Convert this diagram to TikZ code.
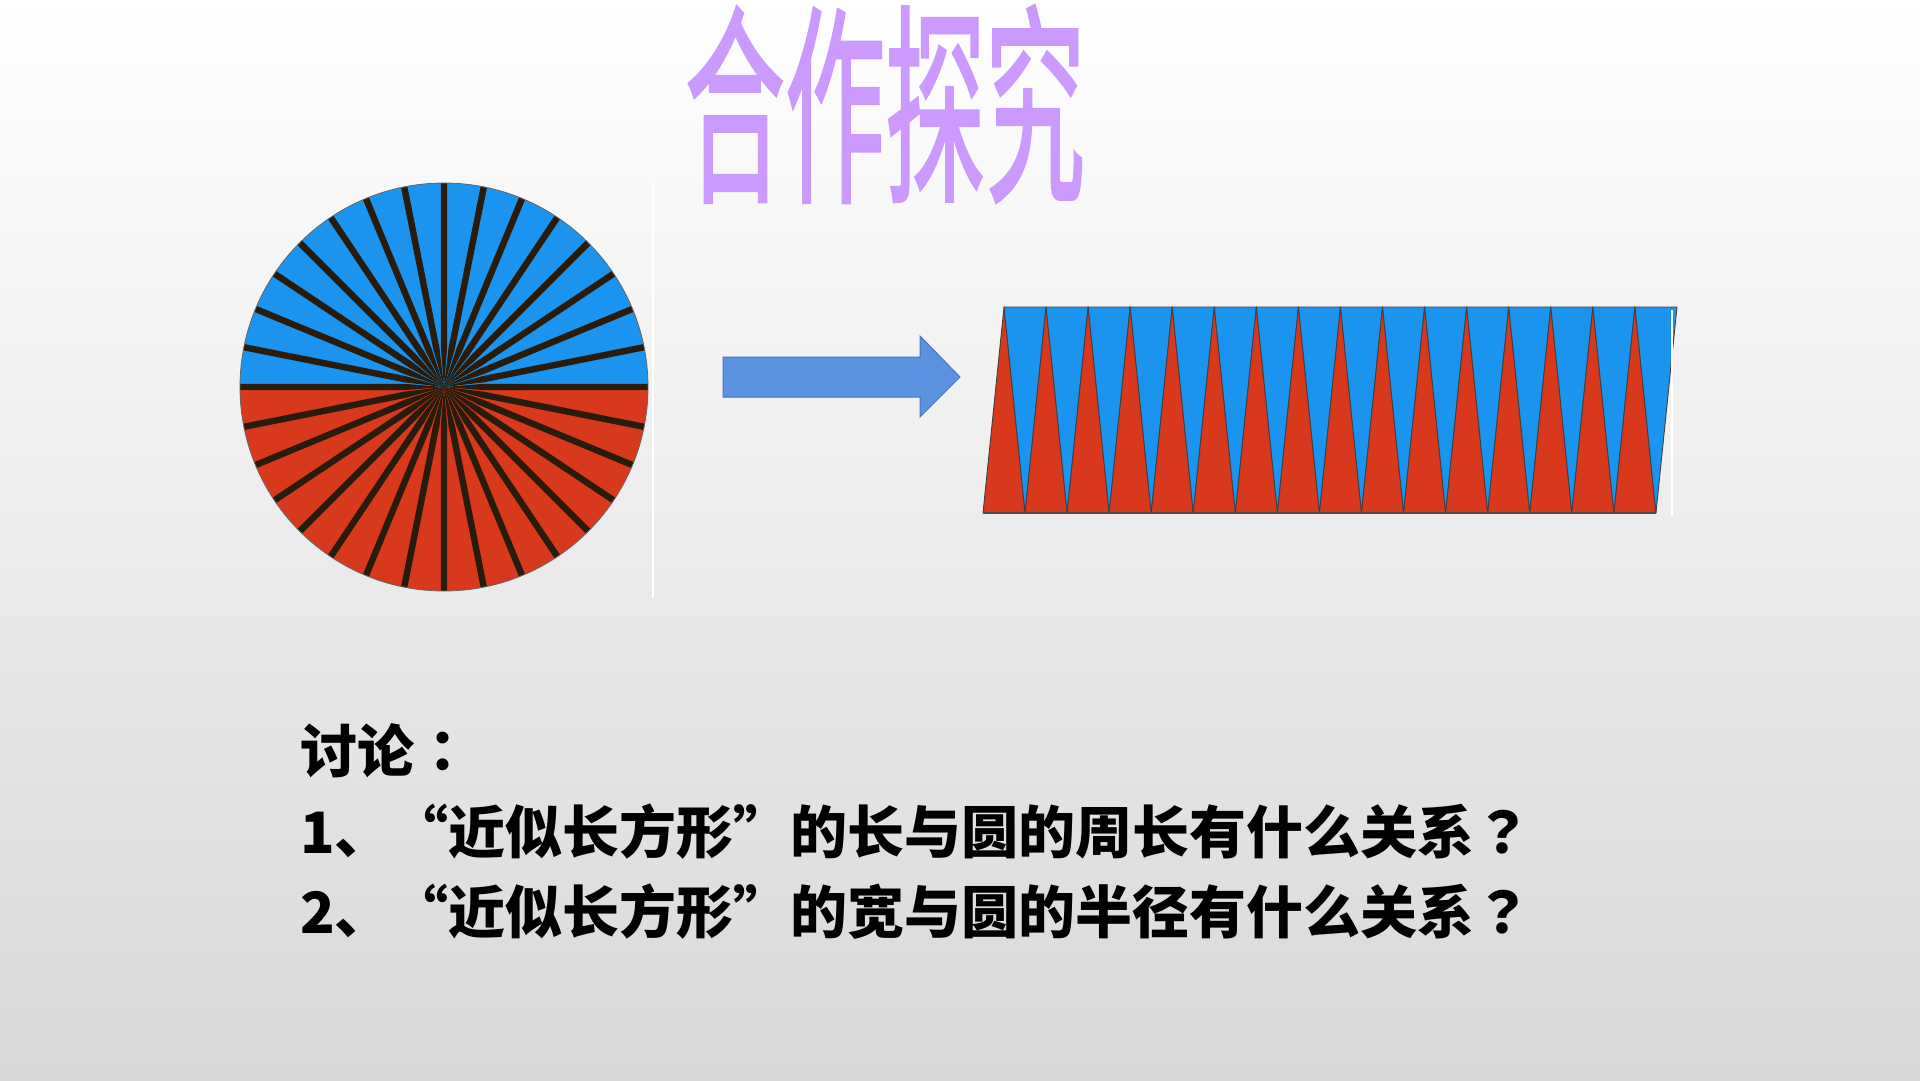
\documentclass[tikz,border=0pt]{standalone}
\usepackage{fontspec}
\usepackage{graphicx}
\usepackage{tikz}
\usetikzlibrary{calc}
\newfontfamily\cjk{Noto Sans CJK SC}
\newfontfamily\cjkjp{Noto Sans CJK JP}
\newfontfamily\cjktitle[FakeBold=1.6]{Noto Sans CJK SC}
\definecolor{SkyBlue}{HTML}{1A94EE}
\definecolor{BrickRed}{HTML}{D8391C}
\definecolor{SpokeBrown}{HTML}{2A1C0C}
\definecolor{ArrowBlue}{HTML}{5B93E1}
\definecolor{ArrowEdge}{HTML}{4676C2}
\definecolor{Lilac}{HTML}{CC99FF}
\definecolor{BgGray}{HTML}{D8D8D8}

\begin{document}
\begin{tikzpicture}[x=1pt,y=-1pt,
    spoke/.style={fill=SpokeBrown},
    wedge/.style={draw=black!75,line width=0.9pt,line join=round},
    question/.style={anchor=west,inner sep=0pt,font=\cjk\bfseries\fontsize{57}{57}\selectfont}]
  \useasboundingbox (0,0) rectangle (1920,1080);
  \shade[top color=white,bottom color=BgGray] (0,0) rectangle (1920,1080);
  % circle cut into 32 sectors
  \coordinate (c) at (444,387);
  \fill[SkyBlue] (c) -- ++(180:204) arc[start angle=180,end angle=360,radius=204] -- cycle;
  \fill[BrickRed] (c) -- ++(0:204) arc[start angle=0,end angle=180,radius=204] -- cycle;
  \foreach \a in {0,11.25,...,359}
    \fill[spoke] (c) -- ($(c)+(\a-4.6:40)$) -- ($(c)+(\a-0.9:204)$) -- ($(c)+(\a+0.9:204)$) -- ($(c)+(\a+4.6:40)$) -- cycle;
  \draw[black!60,line width=0.8pt] (c) circle[radius=204];
  \draw[white,line width=1.5pt] (653,181) -- (653,598);
  % sectors laid side by side
  \foreach \k in {0,...,15} {
    \filldraw[wedge,fill=BrickRed] ({983+42.06*\k},513) -- ({983+42.06*(\k+0.5)},307) -- ({983+42.06*(\k+1)},513) -- cycle;
    \filldraw[wedge,fill=SkyBlue] ({983+42.06*(\k+0.5)},307) -- ({983+42.06*(\k+1)},513) -- ({983+42.06*(\k+1.5)},307) -- cycle;
  }
  \draw[SpokeBrown!80,line width=1.5pt] (983,513) -- (1656,513);
  \draw[white,line width=1.5pt] (1672,310) -- (1672,516);
  % block arrow
  \filldraw[fill=ArrowBlue,draw=ArrowEdge,line width=1pt] (723,357) -- (920,357) -- (920,336) -- (960,377) -- (920,417) -- (920,397) -- (723,397) -- cycle;
  \node[text=Lilac,inner sep=0pt,font=\cjktitle\fontsize{213}{213}\selectfont] (title) at (885,104) {\scalebox{0.47}[1]{合作探究}};
  \node[question] (talk) at (300,751) {讨论{\cjkjp ：}};
  \node[question] (q1) at (300,832) {1、“近似长方形”的长与圆的周长有什么关系{\cjkjp ？}};
  \node[question] (q2) at (300,912) {2、“近似长方形”的宽与圆的半径有什么关系{\cjkjp ？}};
\end{tikzpicture}
\end{document}
